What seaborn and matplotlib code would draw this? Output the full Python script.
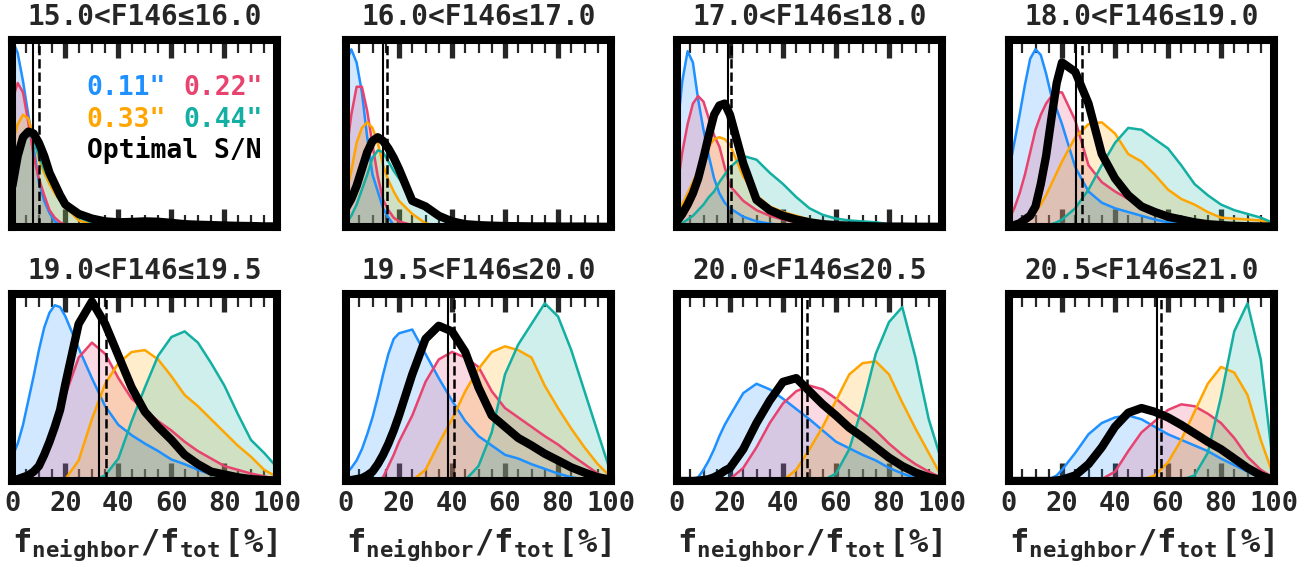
#!/usr/bin/env python

import pandas as pd
import seaborn as sns
from matplotlib import pyplot as plt
from matplotlib.ticker import MultipleLocator

# flux fraction grid [%] the curves were read on
frac = [0, 2, 4, 6, 8, 10, 12, 14, 16, 18, 20, 25, 30, 35, 40, 45, 50, 55, 60, 65, 70, 75, 80, 85, 90, 95, 100]

bins = ['15.0<F146≤16.0', '16.0<F146≤17.0', '17.0<F146≤18.0', '18.0<F146≤19.0',
        '19.0<F146≤19.5', '19.5<F146≤20.0', '20.0<F146≤20.5', '20.5<F146≤21.0']

apertures = ['0.11"', '0.22"', '0.33"', '0.44"']

# density (arbitrary units, % of panel height), one row per magnitude bin
dens_011 = [
    [100, 93, 78, 60, 43, 24, 14, 7.5, 3, 1, 0.5, 0.2, 0.1, 0.1, 0.1, 0.1, 0.1, 0.1, 0.1, 0.1, 0.1, 0.1, 0.1, 0.1, 0.1, 0.1, 0.1],
    [88, 95, 88, 72, 48, 28, 19, 10, 5, 1, 0.3, 0.1, 0.1, 0.1, 0.1, 0.1, 0.1, 0.1, 0.1, 0.1, 0.1, 0.1, 0.1, 0.1, 0.1, 0.1, 0.1],
    [50, 78, 94, 88, 68, 52, 38, 26, 18, 13, 10, 5.5, 3, 1.8, 1, 0.5, 0.3, 0.2, 0.2, 0.1, 0.1, 0.1, 0.1, 0.1, 0.1, 0.1, 0.1],
    [30, 45, 60, 76, 90, 95, 92, 82, 70, 63, 55, 32, 19, 13, 10, 8, 6, 4, 2.5, 1.5, 1, 0.6, 0.4, 0.3, 0.2, 0.2, 0.1],
    [13, 20, 30, 43, 56, 70, 82, 90, 94, 93, 88, 71, 55, 40, 30, 24.5, 20, 16, 11.5, 9, 6, 3.5, 2, 1, 0.5, 0.3, 0.2],
    [4, 7, 11, 17, 25, 34, 45, 57, 68, 76, 79, 81, 68, 55, 43, 32, 24, 19, 14, 12, 9, 6.5, 4, 2, 1, 0.5, 0.3],
    [0, 0, 0, 0.5, 2, 6, 11, 17, 24, 30, 35, 47, 52, 49, 44, 38.5, 33, 27, 21, 17.5, 14, 11, 7, 4, 1.5, 0.5, 0.2],
    [0, 0, 0, 0, 0, 0, 0, 0.5, 1.5, 3, 6, 15, 25, 31, 34, 35, 33, 29, 25, 22, 19, 16, 12, 8.5, 5, 1.5, 0.3],
]
dens_022 = [
    [68, 77, 72, 56, 38, 26, 17, 9, 5, 2.5, 1.2, 0.4, 0.2, 0.2, 0.2, 0.2, 0.3, 0.3, 0.2, 0.2, 0.1, 0.1, 0.1, 0.1, 0.1, 0.1, 0.1],
    [38, 60, 75, 75, 62, 44, 27, 14.5, 9, 5, 3, 1, 0.3, 0.2, 0.1, 0.1, 0.1, 0.1, 0.1, 0.1, 0.1, 0.1, 0.1, 0.1, 0.1, 0.1, 0.1],
    [20, 40, 55, 66, 70, 67, 58, 49, 43, 32, 22, 14, 9, 6, 4, 2.5, 1.5, 0.7, 0.3, 0.2, 0.1, 0.1, 0.1, 0.1, 0.1, 0.1, 0.1],
    [4, 10, 18, 28, 40, 52, 60, 66, 70, 72, 72, 57, 33, 24, 19, 15, 12, 9.5, 7, 5, 3.5, 2, 1.2, 0.7, 0.4, 0.2, 0.1],
    [0.3, 0.5, 1, 2, 4, 8, 14, 22, 29, 36, 46, 66, 74, 68, 55, 44, 38, 32, 27, 21, 16, 12, 8, 6, 4, 2.5, 1],
    [0, 0, 0, 0, 0, 0, 0.3, 2, 8, 14, 21, 35, 53, 65, 69, 66, 61, 48, 39, 34, 29, 24, 19.5, 14, 9, 4, 1],
    [0, 0, 0, 0, 0, 0, 0, 0, 0, 0.3, 1, 7, 18, 31, 41.5, 48, 51, 49, 44, 38, 33, 27, 20, 14, 9, 5, 1.5],
    [0, 0, 0, 0, 0, 0, 0, 0, 0, 0, 0, 0, 0.2, 1, 5, 16, 26, 32, 38, 41, 40, 36, 31, 23, 13, 6, 1.5],
]
dens_033 = [
    [45, 55, 60, 58, 48, 36, 29, 23, 18, 14, 11, 3.5, 1.5, 0.8, 0.5, 0.5, 0.6, 0.6, 0.5, 0.4, 0.3, 0.2, 0.2, 0.1, 0.1, 0.1, 0.1],
    [18, 30, 45, 53, 56, 53, 45, 33, 25, 19, 14, 7, 2, 0.5, 0.2, 0.1, 0.1, 0.1, 0.1, 0.1, 0.1, 0.1, 0.1, 0.1, 0.1, 0.1, 0.1],
    [6, 12, 18, 24, 30, 38, 43, 47, 48, 47, 44, 27, 17, 11, 8, 6, 4, 2.8, 1.8, 1.2, 0.7, 0.4, 0.3, 0.2, 0.1, 0.1, 0.1],
    [0.5, 1, 2, 3, 5, 8, 12, 17, 23, 29, 35, 48, 55, 56, 50, 39, 35, 28, 20, 15, 12, 8, 5, 4.5, 4, 3.5, 2],
    [0, 0, 0, 0, 0, 0, 0, 0, 0, 0.3, 1, 11, 33, 52, 63, 69, 70, 65, 56, 46, 40, 33, 26, 19, 13, 6, 2],
    [0, 0, 0, 0, 0, 0, 0, 0, 0, 0, 0, 0.3, 6, 20, 33, 48, 60, 69, 72, 70, 66, 51, 39, 28, 18, 9, 2],
    [0, 0, 0, 0, 0, 0, 0, 0, 0, 0, 0, 0, 0, 0, 0.3, 6, 17, 29, 43, 57, 63, 64, 57, 42, 28, 15, 2],
    [0, 0, 0, 0, 0, 0, 0, 0, 0, 0, 0, 0, 0, 0, 0, 0, 0.5, 3, 10, 22, 37, 52, 61, 58, 46, 22, 2],
]
dens_044 = [
    [25, 35, 44, 50, 47, 38, 31, 25, 20, 16, 12, 5, 2.5, 1.5, 1, 1, 1.5, 1.5, 1, 0.5, 0.4, 0.3, 0.2, 0.2, 0.1, 0.1, 0.1],
    [2, 6, 12, 20, 28, 37, 41, 40, 35, 30, 26, 16, 9, 5, 2, 1, 0.3, 0.2, 0.1, 0.1, 0.1, 0.1, 0.1, 0.1, 0.1, 0.1, 0.1],
    [1, 2, 4, 6, 9, 12, 16, 19, 24, 28, 32, 38, 36, 29, 23, 16, 10, 6.5, 4.5, 3.5, 3, 2.5, 1.5, 1, 0.7, 0.5, 0.3],
    [0, 0, 0, 0, 0, 0.3, 0.5, 1, 1.5, 2.5, 4, 10, 20, 33, 45, 53, 52, 47, 42, 33, 23, 17, 12, 9, 7, 5, 2],
    [0, 0, 0, 0, 0, 0, 0, 0, 0, 0, 0, 0, 0, 3, 12, 32, 50, 67, 77, 80, 74, 63, 51, 36, 22, 15, 7],
    [0, 0, 0, 0, 0, 0, 0, 0, 0, 0, 0, 0, 0, 0, 0, 0.5, 8, 26, 57, 73, 84, 95, 88, 70, 48, 26, 4],
    [0, 0, 0, 0, 0, 0, 0, 0, 0, 0, 0, 0, 0, 0, 0, 0, 0, 0.2, 4, 17, 40, 68, 85, 93, 66, 33, 10],
    [0, 0, 0, 0, 0, 0, 0, 0, 0, 0, 0, 0, 0, 0, 0, 0, 0, 0, 0, 0.5, 3, 15, 45, 80, 95, 65, 5],
]
dens_opt = [
    [22, 38, 48, 51, 50, 45, 38, 29, 23, 17, 12, 7, 4.5, 3, 2.5, 2.7, 3, 2.8, 2.2, 1.5, 1.2, 1, 0.8, 0.6, 0.5, 0.3, 0.3],
    [10, 15, 22, 31, 40, 46, 48, 46, 42, 37, 31, 14, 11, 6, 3, 1.5, 1, 0.7, 0.5, 0.4, 0.3, 0.3, 0.2, 0.2, 0.2, 0.1, 0.1],
    [3, 7, 12, 18, 26, 37, 49, 60, 65, 66, 60, 34, 14.5, 9, 6, 4, 2.5, 1.5, 1, 0.7, 0.5, 0.3, 0.2, 0.2, 0.1, 0.1, 0.1],
    [0.5, 1, 2, 4, 6, 11, 23, 38, 58, 77, 88, 83, 66, 39, 26, 17, 11, 8, 5.5, 4, 2.5, 1.5, 1, 0.6, 0.4, 0.3, 0.2],
    [0.5, 1, 2, 3, 5, 8, 14, 21, 29, 38, 52, 84, 96, 84, 67, 50, 37, 29, 22, 14, 9, 5, 3.5, 2, 1, 0.5, 0.3],
    [0.3, 0.5, 1, 1.5, 3, 5, 9, 14, 20, 27, 35, 57, 76, 83, 80, 69, 50, 35, 29, 23, 19, 14.6, 11, 7.3, 4.5, 2, 0.7],
    [0, 0, 0, 0, 0.2, 0.5, 1, 2, 3.5, 5.5, 7, 17, 31, 43, 53, 55, 48, 41, 35, 28.5, 23.5, 18, 12.5, 8, 4.5, 2, 0.5],
    [0, 0, 0, 0, 0, 0, 0, 0, 0, 0.3, 0.7, 3, 9, 18, 29, 36.5, 39, 37, 34, 30, 25.5, 21, 17, 12, 7, 3, 0.5],
]

# vertical markers per bin (solid and dashed)
line_solid = [7.8, 14.1, 19.1, 25.4, 32.8, 38.6, 47.1, 55.7]
line_dashed = [10.1, 15.4, 20.3, 27.5, 35.4, 40.8, 48.9, 57.2]

colors = ['#1E90FF', '#E8436E', '#FFA500', '#12AFA2']

rows = []
for name, series in zip(apertures + ['opt'], [dens_011, dens_022, dens_033, dens_044, dens_opt]):
    for b, curve in enumerate(series):
        for x, y in zip(frac, curve):
            rows.append([b, name, x, y])
df = pd.DataFrame(rows, columns=['bin', 'aperture', 'frac', 'density'])

sns.set_style("white")
plt.rcParams['font.family'] = ['DejaVu Sans Mono']
plt.rcParams['font.weight'] = 'bold'
plt.rcParams['mathtext.fontset'] = 'custom'
plt.rcParams['mathtext.rm'] = 'DejaVu Sans Mono:bold'
plt.rcParams['mathtext.bf'] = 'DejaVu Sans Mono:bold'
plt.rcParams['mathtext.it'] = 'DejaVu Sans Mono:bold'

W, H = 1315, 567
fig = plt.figure(figsize=(W / 100, H / 100), dpi=100)
col_left = [12.4, 346, 677, 1009]
row_top = [40, 294]
pw, ph = 265, 187

for b in range(8):
    r, c = divmod(b, 4)
    ax = fig.add_axes([col_left[c] / W, 1 - (row_top[r] + ph) / H, pw / W, ph / H])
    sub = df[df['bin'] == b]
    col = sub[sub['aperture'] != 'opt']
    for name, color in zip(apertures, colors):
        s = col[col['aperture'] == name]
        ax.fill_between(s['frac'], s['density'], color=color, alpha=0.2, lw=0)
    sns.lineplot(data=col, x='frac', y='density', hue='aperture', hue_order=apertures,
                 palette=colors, lw=1.8, legend=False, ax=ax)
    sns.lineplot(data=sub[sub['aperture'] == 'opt'], x='frac', y='density',
                 color='black', lw=6, legend=False, ax=ax)
    ax.axvline(line_solid[b], color='black', lw=1.5)
    ax.axvline(line_dashed[b], color='black', lw=1.8, ls='--')

    ax.set_xlim(0, 100)
    ax.set_ylim(0, 100)
    ax.set_yticks([])
    ax.xaxis.set_major_locator(MultipleLocator(20))
    ax.xaxis.set_minor_locator(MultipleLocator(5))
    ax.tick_params(axis='x', which='both', direction='in', top=True, bottom=True)
    ax.tick_params(axis='x', which='major', length=13, width=3.8, labelsize=19.5, pad=7)
    ax.tick_params(axis='x', which='minor', length=9, width=1.6)
    for sp in ax.spines.values():
        sp.set_linewidth(5.8)
        sp.set_color('black')
    ax.set_ylabel('')
    ax.set_title(bins[b], fontsize=20, fontweight='bold', pad=11)
    if r == 0:
        ax.set_xlabel('')
        ax.tick_params(axis='x', labelbottom=False)
    else:
        ax.set_xlabel(r'$\mathbf{f_{neighbor}/f_{tot}\,[\%]}$', fontsize=23, labelpad=7)

    if b == 0:
        kw = dict(transform=ax.transAxes, va='center', ha='left', fontsize=19, fontweight='bold')
        ax.text(0.28, 0.743, apertures[0], color=colors[0], **kw)
        ax.text(0.647, 0.743, apertures[1], color=colors[1], **kw)
        ax.text(0.28, 0.572, apertures[2], color=colors[2], **kw)
        ax.text(0.647, 0.572, apertures[3], color=colors[3], **kw)
        ax.text(0.28, 0.412, 'Optimal S/N', color='black', **kw)

plt.savefig('out.png', dpi=100)
